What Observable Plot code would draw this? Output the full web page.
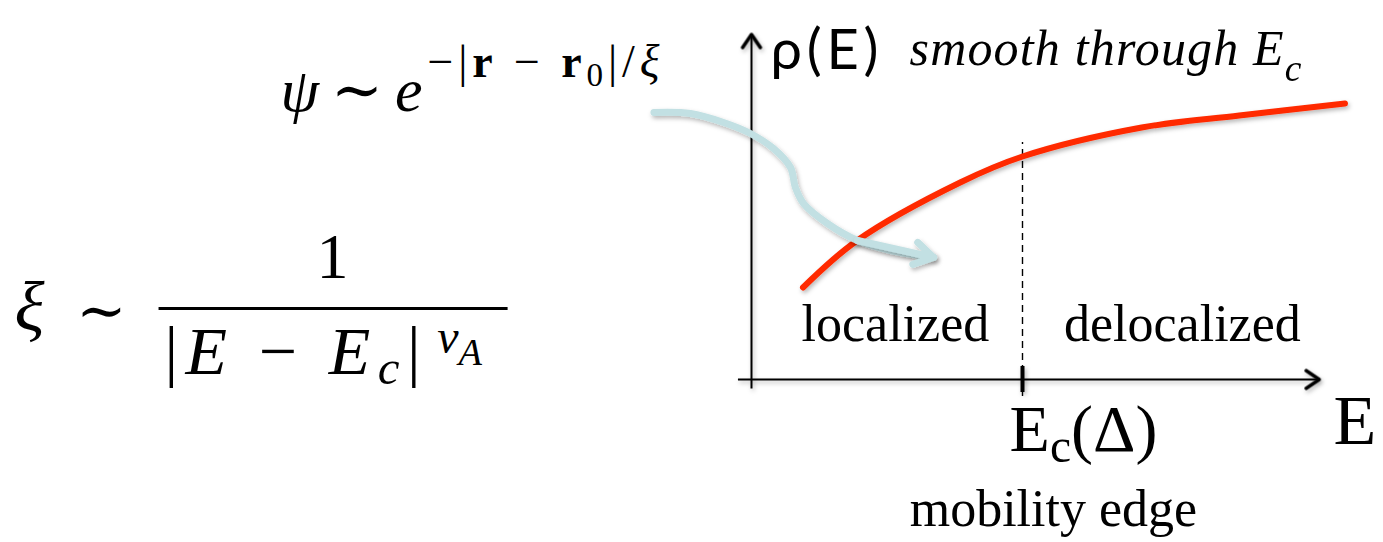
<!DOCTYPE html>
<html>
<head>
<meta charset="utf-8">
<script src="https://cdn.jsdelivr.net/npm/d3@7"></script>
<script src="https://cdn.jsdelivr.net/npm/@observablehq/plot@0.6"></script>
<style>
  html, body { margin: 0; padding: 0; background: #fff; }
  #chart svg { display: block; }
  #chart text { white-space: pre; }
</style>
</head>
<body>
<div id="chart"></div>
<script>
// Density of states ρ(E): smooth across the mobility edge E_c
const energy  = [0.19, 0.39, 0.77, 1.00, 1.44, 1.80, 2.19];
const density = [0.92, 1.39, 1.97, 2.23, 2.52, 2.64, 2.76];
const mobilityEdge = 1.0;

// Curved pointer from the wavefunction formula into the localized region
const pointerE   = [-0.36, -0.225, -0.103, -0.004, 0.081, 0.144, 0.162, 0.192, 0.28, 0.391, 0.513, 0.672];
const pointerRho = [2.67, 2.66, 2.57, 2.46, 2.31, 2.12, 1.92, 1.76, 1.56, 1.39, 1.29, 1.22];

// Axis extents
const eAxisSpan   = [-0.05, 2.095];
const rhoAxisSpan = [-0.09, 3.45];
const edgeSpan    = [-0.17, 2.37];
const edgeTick    = [-0.13, 0.13];

// Texts on the diagram
const axisTitleY = "ρ(E)";
const axisTitleX = "E";
const smoothNote = "smooth through E_c";
const regionNames = ["localized", "delocalized"];
const regionE = [0.531, 1.59];
const edgeName = "E_c(Δ)";
const edgeNote = "mobility edge";

// Formulas: ξ ∼ 1/|E − E_c|^{ν_A} and ψ ∼ e^{−|r−r0|/ξ}
const xiParts = ["ξ", "∼", "1", "|E − E_c|", "ν_A"];
const psiParts = ["ψ ∼ e", "−|\\b{r}\u2005−\u2005\\b{r}_0|/ξ"];
const fractionBar = [-2.188, -0.900];

const curveData = energy.map((E, i) => ({E, rho: density[i]}));
const pointer = pointerE.map((E, i) => ({E, rho: pointerRho[i]}));
const n = pointer.length;
const pointerHead = [{x1: pointer[n - 3].E, y1: pointer[n - 3].rho, x2: pointer[n - 1].E, y2: pointer[n - 1].rho}];

const axes = [
  {x1: 0, y1: rhoAxisSpan[0], x2: 0, y2: rhoAxisSpan[1], angle: 0},
  {x1: eAxisSpan[0], y1: 0, x2: eAxisSpan[1], y2: 0, angle: 90}
];

// Open chevron arrowhead, tip at the origin, pointing up before rotation
const chevron = {
  draw(context, size) {
    const r = Math.sqrt(size / Math.PI);
    context.moveTo(-0.68 * r, r);
    context.lineTo(0, 0);
    context.lineTo(0.68 * r, r);
  }
};

// Rich-text labels: "_" subscripts, "^" superscripts, "\b{}" bold
const richStyles = new Map();
let labelCount = 0;
function label(rows, o) {
  const id = `label-${labelCount++}`;
  richStyles.set(id, {sub: 0.2, sup: 0.4, scale: 0.7, italic: "none", adjust: "spacing", ...o});
  return Plot.text(rows, {
    x: "x", y: "y", text: "text",
    textAnchor: o.anchor || "start",
    lineAnchor: "bottom",
    fontFamily: o.family || "Liberation Serif, DejaVu Serif, serif",
    fontSize: o.size,
    fill: "#000",
    ariaDescription: id
  });
}

const chart = Plot.plot({
  width: 1383,
  height: 542,
  margin: 0,
  x: {domain: [-2.7712, 2.3321], axis: null},
  y: {domain: [-1.63, 3.79], axis: null},
  style: {background: "#fff", overflow: "visible"},
  marks: [
    Plot.link(axes, {x1: "x1", y1: "y1", x2: "x2", y2: "y2", stroke: "#000", strokeWidth: 2, ariaDescription: "axes"}),
    Plot.dot(axes, {x: "x2", y: "y2", symbol: chevron, r: 13, rotate: "angle", fill: "none", stroke: "#000",
      strokeWidth: 3.5, strokeLinejoin: "round", strokeLinecap: "round", ariaDescription: "axes-heads"}),
    Plot.ruleX([mobilityEdge], {y1: edgeSpan[0], y2: edgeSpan[1], stroke: "#000", strokeWidth: 1.4, strokeDasharray: "7,5"}),
    Plot.ruleX([mobilityEdge], {y1: edgeTick[0], y2: edgeTick[1], stroke: "#000", strokeWidth: 4, ariaDescription: "edge-tick"}),
    Plot.line(curveData, {x: "E", y: "rho", curve: "catmull-rom", stroke: "#ff2a00", strokeWidth: 6, ariaDescription: "density"}),
    Plot.line(pointer, {x: "E", y: "rho", curve: "catmull-rom", stroke: "#c2e0e3", strokeWidth: 7, strokeLinecap: "round", ariaDescription: "pointer"}),
    Plot.arrow(pointerHead, {x1: "x1", y1: "y1", x2: "x2", y2: "y2", stroke: "#c2e0e3", strokeWidth: 7,
      headLength: 4.7, headAngle: 62, strokeLinecap: "round", strokeLinejoin: "round", ariaDescription: "pointer-head"}),

    // diagram labels
    label([{x: 0.07, y: 3.11, text: axisTitleY}], {size: 56, family: "Lato, 'Open Sans', sans-serif", fit: 108}),
    label([{x: 0.583, y: 3.15, text: smoothNote}], {size: 50, italic: "all", sub: 0.32, scale: 0.75, fit: 392}),
    label(regionNames.map((t, i) => ({x: regionE[i], y: 0.39, text: t})), {size: 52, anchor: "middle"}),
    label([{x: 2.148, y: -0.64, text: axisTitleX}], {size: 70}),
    label([{x: 1.225, y: -0.71, text: edgeName}], {size: 66, anchor: "middle", sub: 0.17, scale: 0.72}),
    label([{x: 1.114, y: -1.46, text: edgeNote}], {size: 52, anchor: "middle"}),

    // ξ ∼ 1 / |E − E_c|^{ν_A}
    label([{x: -2.720, y: 0.50, text: xiParts[0]}], {size: 70, italic: "math"}),
    label([{x: -2.399, y: 0.49, text: xiParts[1]}], {size: 60, anchor: "middle", family: "DejaVu Serif, serif"}),
    label([{x: -1.546, y: 1.02, text: xiParts[2]}], {size: 64, anchor: "middle"}),
    Plot.link([{x1: fractionBar[0], x2: fractionBar[1], y: 0.71}], {x1: "x1", x2: "x2", y1: "y", y2: "y", stroke: "#000", strokeWidth: 3}),
    label([{x: -2.166, y: 0.06, text: xiParts[3]}], {size: 68, italic: "math", sub: 0.16, scale: 0.72, fit: 256}),
    label([{x: -1.160, y: 0.27, text: xiParts[4]}], {size: 48, italic: "math", sub: 0.26, scale: 0.8}),

    // ψ ∼ e^{−|r − r0|/ξ}
    label([{x: -1.738, y: 2.69, text: psiParts[0]}], {size: 62, italic: "math", fit: 142}),
    label([{x: -1.196, y: 3.03, text: psiParts[1]}], {size: 46, italic: "math", sub: 0.2, scale: 0.72, fit: 232})
  ]
});

document.getElementById("chart").appendChild(chart);

// Turn the markup in each label into tspans
const NS = "http://www.w3.org/2000/svg";
const letter = /[A-Za-z\u0370-\u03ff]/;
function renderRich(el, src, o) {
  el.textContent = "";
  let cur = 0;
  function emit(ch, sz, off, st) {
    const t = document.createElementNS(NS, "tspan");
    t.textContent = ch;
    t.setAttribute("font-size", sz);
    const italic = st.bold ? false : o.italic === "all" ? true : o.italic === "math" ? letter.test(ch) : false;
    if (italic) t.setAttribute("font-style", "italic");
    if (st.bold) t.setAttribute("font-weight", "bold");
    if (off !== cur) { t.setAttribute("dy", off - cur); cur = off; }
    el.appendChild(t);
  }
  function group(s, i) {
    let depth = 0, j = i;
    for (; j < s.length; j++) {
      if (s[j] === "{") depth++;
      else if (s[j] === "}" && --depth === 0) break;
    }
    return [s.slice(i + 1, j), j + 1];
  }
  function walk(s, sz, off, st) {
    let i = 0;
    while (i < s.length) {
      const ch = s[i];
      if (ch === "_" || ch === "^") {
        let arg;
        if (s[i + 1] === "{") [arg, i] = group(s, i + 1);
        else { arg = s[i + 1]; i += 2; }
        const shift = ch === "_" ? sz * o.sub : -sz * o.sup;
        walk(arg, sz * o.scale, off + shift, st);
      } else if (s.startsWith("\\b{", i)) {
        let arg;
        [arg, i] = group(s, i + 2);
        walk(arg, sz, off, {...st, bold: true});
      } else {
        emit(ch, sz, off, st);
        i++;
      }
    }
  }
  walk(src, o.size, 0, {});
  if (o.fit) {
    el.setAttribute("textLength", o.fit);
    el.setAttribute("lengthAdjust", o.adjust);
  }
}

const svg = d3.select(chart);
for (const [id, o] of richStyles) {
  svg.selectAll(`g[aria-description="${id}"] text`).each(function () {
    renderRich(this, this.textContent, o);
  });
}

// Soft drop shadow under the drawn strokes
const defs = svg.insert("defs", ":first-child");
const filter = defs.append("filter").attr("id", "soft-shadow")
  .attr("filterUnits", "userSpaceOnUse").attr("x", 0).attr("y", 0).attr("width", 1383).attr("height", 542);
filter.append("feDropShadow").attr("dx", 1.5).attr("dy", 2.5).attr("stdDeviation", 2)
  .attr("flood-color", "#000").attr("flood-opacity", 0.28);
svg.selectAll(["density", "pointer", "pointer-head", "axes", "axes-heads", "edge-tick"].map(d => `g[aria-description="${d}"]`).join(","))
  .attr("filter", "url(#soft-shadow)");
</script>
</body>
</html>
